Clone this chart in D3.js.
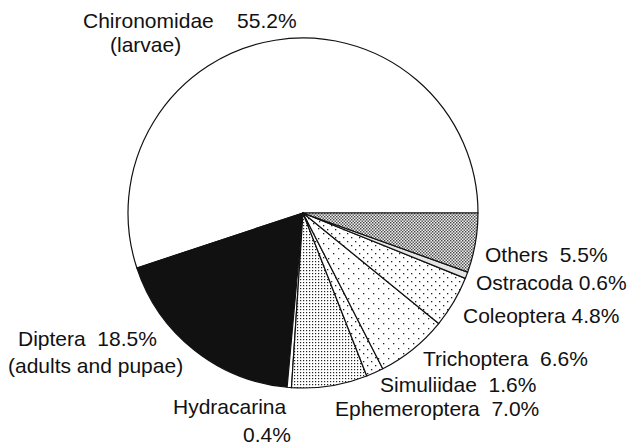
<!DOCTYPE html>
<html>
<head>
<meta charset="utf-8">
<script src="https://cdn.jsdelivr.net/npm/d3@7"></script>
<style>
  body { margin: 0; background: #fff; }
  svg { display: block; }
</style>
</head>
<body>
<svg id="chart" width="637" height="447"></svg>
<script>
// taxa, going counter-clockwise from 3 o'clock
var taxa = ["Chironomidae", "Diptera", "Hydracarina", "Ephemeroptera", "Simuliidae",
            "Trichoptera", "Coleoptera", "Ostracoda", "Others"];
var percents = [55.2, 18.5, 0.4, 7.0, 1.6, 6.6, 4.8, 0.6, 5.5];
var fills = ["white", "#111", "white", "url(#dotDense)", "url(#dotMid)",
             "url(#dotSparse)", "url(#dotMid)", "#e4e4e4", "url(#checker)"];

// label text lines per taxon
var labelLines = [
  [["Chironomidae", "55.2%"], ["(larvae)"]],
  [["Diptera", "18.5%"], ["(adults and pupae)"]],
  [["Hydracarina"], ["0.4%"]],
  [["Ephemeroptera", "7.0%"]],
  [["Simuliidae", "1.6%"]],
  [["Trichoptera", "6.6%"]],
  [["Coleoptera", "4.8%"]],
  [["Ostracoda", "0.6%"]],
  [["Others", "5.5%"]]
];

var svg = d3.select("#chart");
var cx = 303, cy = 213, radius = 175;
var fontSize = 21;

var defs = svg.append("defs");

function dotPattern(id, step, r) {
  var p = defs.append("pattern")
    .attr("id", id)
    .attr("patternUnits", "userSpaceOnUse")
    .attr("width", step * 2)
    .attr("height", step * 2);
  p.append("rect").attr("width", step * 2).attr("height", step * 2).attr("fill", "white");
  [[0, 0], [step, step], [step, 0], [0, step]].forEach(function (d) {
    p.append("rect").attr("x", d[0]).attr("y", d[1])
      .attr("width", r).attr("height", r).attr("fill", "#222");
  });
}
dotPattern("dotDense", 3, 1.2);

function staggerPattern(id, step, r) {
  var p = defs.append("pattern")
    .attr("id", id)
    .attr("patternUnits", "userSpaceOnUse")
    .attr("width", step * 2)
    .attr("height", step * 2);
  p.append("rect").attr("width", step * 2).attr("height", step * 2).attr("fill", "white");
  p.append("rect").attr("x", 0).attr("y", 0).attr("width", r).attr("height", r).attr("fill", "#222");
  p.append("rect").attr("x", step).attr("y", step).attr("width", r).attr("height", r).attr("fill", "#222");
}
staggerPattern("dotMid", 4, 1.3);
staggerPattern("dotSparse", 5, 1.3);

var chk = defs.append("pattern")
  .attr("id", "checker")
  .attr("patternUnits", "userSpaceOnUse")
  .attr("width", 3).attr("height", 3);
chk.append("rect").attr("width", 3).attr("height", 3).attr("fill", "#eee");
chk.append("rect").attr("x", 0).attr("y", 0).attr("width", 1.4).attr("height", 1.4).attr("fill", "#444");
chk.append("rect").attr("x", 1.5).attr("y", 1.5).attr("width", 1.4).attr("height", 1.4).attr("fill", "#444");

var pie = d3.pie()
  .sort(null)
  .value(function (d) { return d; })
  .startAngle(Math.PI / 2)
  .endAngle(Math.PI / 2 - 2 * Math.PI);

var arc = d3.arc().innerRadius(0).outerRadius(radius);

var g = svg.append("g").attr("transform", "translate(" + cx + "," + cy + ")");

g.selectAll("path.slice")
  .data(pie(percents))
  .enter()
  .append("path")
  .attr("class", "slice")
  .attr("d", arc)
  .attr("fill", function (d, i) { return fills[i]; })
  .attr("stroke", "#111")
  .attr("stroke-width", 1.2)
  .attr("stroke-linejoin", "round");

// label placement (page coordinates): x of each line start and first baseline
var labelPos = [
  { x: [83, 110], y: 28, gap: 24 },
  { x: [18, 8], y: 346, gap: 27 },
  { x: [173, 243], y: 414, gap: 28 },
  { x: [335], y: 416 },
  { x: [380], y: 392 },
  { x: [423], y: 366 },
  { x: [463], y: 323 },
  { x: [476], y: 290 },
  { x: [485], y: 262 }
];

var labels = svg.append("g")
  .style("font-family", "'Liberation Sans', Arial, Helvetica, sans-serif")
  .style("font-size", fontSize + "px")
  .attr("fill", "#111");

labelLines.forEach(function (lines, i) {
  var pos = labelPos[i];
  lines.forEach(function (parts, j) {
    labels.append("text")
      .attr("x", pos.x[j])
      .attr("y", pos.y + j * (pos.gap || 0))
      .attr("xml:space", "preserve")
      .style("white-space", "pre")
      .text(parts.join(i === 0 ? "    " : (i === 6 || i === 7 ? " " : "  ")));
  });
});
</script>
</body>
</html>
